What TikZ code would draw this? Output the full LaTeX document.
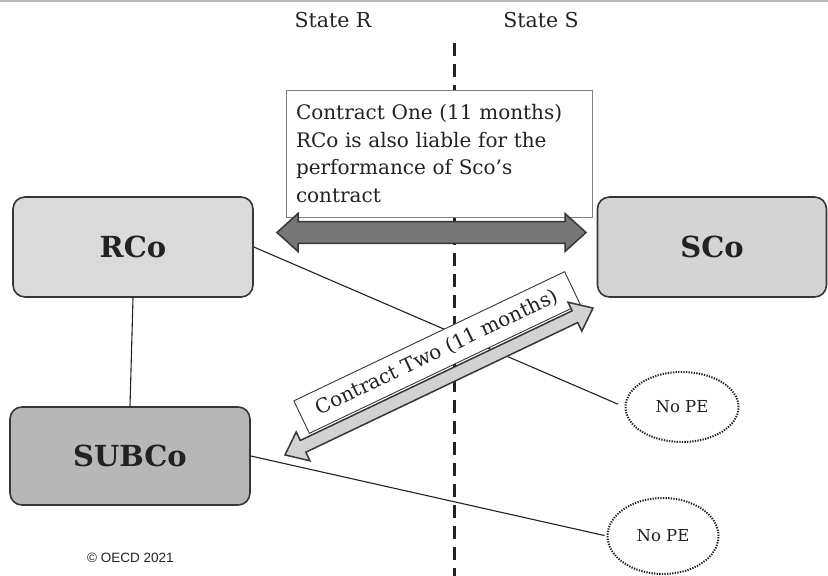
\documentclass[tikz,border=0pt]{standalone}
\usepackage{fontspec}
\setmainfont{DejaVu Serif}
\setsansfont{Liberation Sans}
\usetikzlibrary{shapes.geometric}

\definecolor{ink}{HTML}{222222}
\definecolor{frame}{HTML}{363636}
\definecolor{rcofill}{HTML}{DADADA}
\definecolor{scofill}{HTML}{D4D4D4}
\definecolor{subfill}{HTML}{B7B7B7}
\definecolor{darkshaft}{HTML}{777777}
\definecolor{lightshaft}{HTML}{D2D2D2}
\definecolor{notegrey}{HTML}{808080}
\definecolor{rulegrey}{HTML}{B4BCBC}

\tikzset{
  statelabel/.style={font=\fontsize{20.5}{24}\selectfont, text=ink, inner sep=0},
  divider/.style={draw=ink, line width=3, dash pattern=on 13 off 8},
  company/.style={draw=frame, line width=1.6, rounded corners=12, text=ink,
    font=\fontsize{29}{29}\selectfont\bfseries},
  nopebubble/.style={ellipse, draw=ink, line width=2, fill=white,
    dash pattern=on 1.3 off 1.3, text=ink, inner sep=0,
    font=\fontsize{16.5}{18}\selectfont},
  link/.style={draw=ink, line width=1.1},
  contractnote/.style={draw=notegrey, line width=0.9, fill=white, text=ink,
    font=\fontsize{20}{27.5}\selectfont},
  bigarrow/.style={fill=darkshaft, draw=frame, line width=1.5, line join=miter},
  smallarrow/.style={fill=lightshaft, draw=frame, line width=1.5, line join=miter},
  credit/.style={font=\sffamily\fontsize{13.5}{15}\selectfont, text=ink, inner sep=0}
}

\begin{document}
\begin{tikzpicture}[x=1pt, y=-1pt]
  \useasboundingbox (0,0) rectangle (828,576);
  \fill[white] (0,0) rectangle (828,576);
  \draw[rulegrey, line width=2] (0,1) -- (828,1);

  % jurisdiction headings and the border between them
  \node[statelabel, anchor=base] (stateR) at (333,27) {State R};
  \node[statelabel, anchor=base] (stateS) at (541,27) {State S};
  \coordinate (divtop) at (454,43);
  \coordinate (divbot) at (454,580);
  \draw[divider] (divtop) -- (divbot);

  % companies
  \node[company, fill=rcofill, minimum width=240, minimum height=100] (rco) at (133,247) {RCo};
  \node[company, fill=scofill, minimum width=229, minimum height=100] (sco) at (712,247) {SCo};
  \node[company, fill=subfill, minimum width=240, minimum height=98] (subco) at (130,456) {SUBCo};

  % PE conclusions
  \node[nopebubble, minimum width=113, minimum height=70] (nope1) at (682,407) {No PE};
  \node[nopebubble, minimum width=111, minimum height=76] (nope2) at (663,536) {No PE};

  % plain links
  \draw[link] (rco.south) -- (subco.north);
  \draw[link, shorten >=7] (rco.east) -- (nope1.west);
  \draw[link, shorten >=2] (subco.east) -- (nope2.west);

  % contract one: note and heavy two-way arrow
  \node[contractnote, minimum width=306, minimum height=127, text width=286,
        inner xsep=10, align=left] (c1) at (439,153.5)
    {Contract One (11 months)\\RCo is also liable for the\\performance of Sco’s\\contract};
  \begin{scope}[shift={(431.5,232.5)}]
    \filldraw[bigarrow] (-154.5,0) -- (-133.5,-19) -- (-133.5,-10.8) -- (133.5,-10.8)
      -- (133.5,-19) -- (154.5,0) -- (133.5,19) -- (133.5,10.8) -- (-133.5,10.8)
      -- (-133.5,19) -- cycle;
  \end{scope}

  % contract two: tilted note and light two-way arrow
  \node[contractnote, draw=frame, rotate=25.5, minimum width=300, minimum height=36,
        inner sep=0] (c2) at (437,352.5) {Contract Two (11 months)};
  \begin{scope}[shift={(439,381.5)}, rotate=25.5]
    \filldraw[smallarrow] (-170.6,0) -- (-150.6,-16) -- (-150.6,-6.5) -- (150.6,-6.5)
      -- (150.6,-16) -- (170.6,0) -- (150.6,16) -- (150.6,6.5) -- (-150.6,6.5)
      -- (-150.6,16) -- cycle;
  \end{scope}

  \node[credit, anchor=base west] (oecd) at (87,562) {© OECD 2021};
\end{tikzpicture}
\end{document}
